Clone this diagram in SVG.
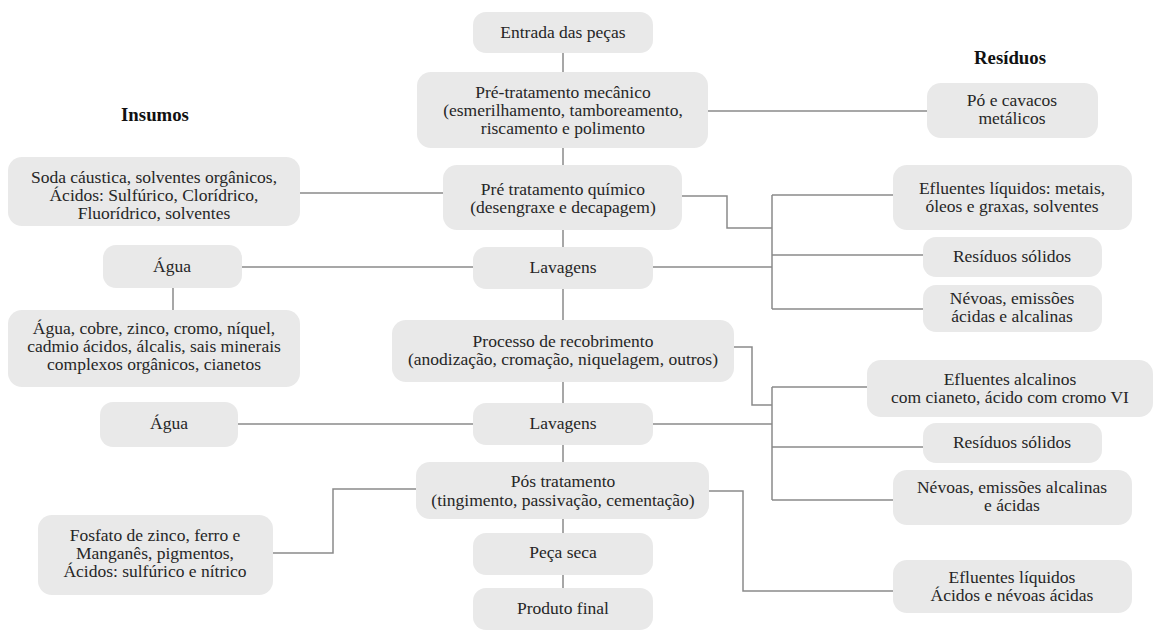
<svg xmlns="http://www.w3.org/2000/svg" width="1154" height="631" viewBox="0 0 1154 631">
<style>
.box{fill:#e9e9e9;stroke:none}
.t{font-family:'Liberation Serif','Times New Roman','DejaVu Serif',serif;font-size:17.5px;fill:#262626;text-anchor:middle}
.h{font-family:'Liberation Serif','Times New Roman','DejaVu Serif',serif;font-size:18.8px;font-weight:bold;fill:#111;text-anchor:middle}
.c{fill:none;stroke:#8a8a8a;stroke-width:1.5}
</style>
<rect width="1154" height="631" fill="#ffffff"/>
<g id="connectors">
<path class="c" d="M563 52V72M563 148V165M563 230V247M563 289V320M563 382V403M563 445V462M563 519V533M563 575V588"/>
<path class="c" d="M708 111H927"/>
<path class="c" d="M300 193H443"/>
<path class="c" d="M242 267H473"/>
<path class="c" d="M173 288V310"/>
<path class="c" d="M238 424H473"/>
<path class="c" d="M273 553H333V489H416"/>
<path class="c" d="M682 196H727V228H772"/>
<path class="c" d="M772 195V309M772 195H893M653 267H772M772 255H923M772 309H923"/>
<path class="c" d="M734 347H752V405H772"/>
<path class="c" d="M772 387V500M772 387H867M653 424H772M772 447H923M772 500H893"/>
<path class="c" d="M709 491H743V591H893"/>
</g>
<text class="h" x="155" y="121">Insumos</text>
<text class="h" x="1010" y="64">Resíduos</text>
<g id="n-entrada"><rect class="box" x="473" y="12" width="180" height="41" rx="13"/><text class="t" x="563" y="38">Entrada das peças</text></g>
<g id="n-mecanico"><rect class="box" x="417" y="72" width="291" height="76" rx="14"/><text class="t" x="563" y="98">Pré-tratamento mecânico</text><text class="t" x="563" y="116">(esmerilhamento, tamboreamento,</text><text class="t" x="563" y="134">riscamento e polimento</text></g>
<g id="n-quimico"><rect class="box" x="443" y="165" width="239" height="65" rx="14"/><text class="t" x="563" y="195">Pré tratamento químico</text><text class="t" x="563" y="213">(desengraxe e decapagem)</text></g>
<g id="n-lav1"><rect class="box" x="473" y="247" width="180" height="42" rx="13"/><text class="t" x="563" y="273">Lavagens</text></g>
<g id="n-recob"><rect class="box" x="392" y="320" width="342" height="62" rx="14"/><text class="t" x="563" y="347">Processo de recobrimento</text><text class="t" x="563" y="365">(anodização, cromação, niquelagem, outros)</text></g>
<g id="n-lav2"><rect class="box" x="473" y="403" width="180" height="42" rx="13"/><text class="t" x="563" y="429">Lavagens</text></g>
<g id="n-pos"><rect class="box" x="416" y="462" width="293" height="57" rx="14"/><text class="t" x="563" y="487">Pós tratamento</text><text class="t" x="563" y="506">(tingimento, passivação, cementação)</text></g>
<g id="n-seca"><rect class="box" x="473" y="533" width="180" height="42" rx="13"/><text class="t" x="563" y="558">Peça seca</text></g>
<g id="n-final"><rect class="box" x="473" y="588" width="180" height="42" rx="13"/><text class="t" x="563" y="614">Produto final</text></g>
<g id="n-soda"><rect class="box" x="8" y="157" width="292" height="69" rx="14"/><text class="t" x="154" y="183">Soda cáustica, solventes orgânicos,</text><text class="t" x="154" y="201">Ácidos: Sulfúrico, Clorídrico,</text><text class="t" x="154" y="219">Fluorídrico, solventes</text></g>
<g id="n-agua1"><rect class="box" x="103" y="245" width="139" height="43" rx="13"/><text class="t" x="172" y="272">Água</text></g>
<g id="n-aguacobre"><rect class="box" x="8" y="310" width="292" height="77" rx="14"/><text class="t" x="154" y="334">Água, cobre, zinco, cromo, níquel,</text><text class="t" x="154" y="352">cadmio ácidos, álcalis, sais minerais</text><text class="t" x="154" y="370">complexos orgânicos, cianetos</text></g>
<g id="n-agua2"><rect class="box" x="100" y="402" width="138" height="45" rx="13"/><text class="t" x="169" y="429">Água</text></g>
<g id="n-fosfato"><rect class="box" x="38" y="515" width="235" height="80" rx="14"/><text class="t" x="155" y="541">Fosfato de zinco, ferro e</text><text class="t" x="155" y="559">Manganês, pigmentos,</text><text class="t" x="155" y="577">Ácidos: sulfúrico e nítrico</text></g>
<g id="n-po"><rect class="box" x="927" y="83" width="171" height="55" rx="14"/><text class="t" x="1012" y="106">Pó e cavacos</text><text class="t" x="1012" y="124">metálicos</text></g>
<g id="n-efl1"><rect class="box" x="893" y="165" width="239" height="65" rx="14"/><text class="t" x="1012" y="194">Efluentes líquidos: metais,</text><text class="t" x="1012" y="212">óleos e graxas, solventes</text></g>
<g id="n-res1"><rect class="box" x="923" y="237" width="179" height="40" rx="13"/><text class="t" x="1012" y="262">Resíduos sólidos</text></g>
<g id="n-nev1"><rect class="box" x="923" y="285" width="179" height="47" rx="13"/><text class="t" x="1012" y="304">Névoas, emissões</text><text class="t" x="1012" y="322">ácidas e alcalinas</text></g>
<g id="n-efl2"><rect class="box" x="867" y="360" width="286" height="57" rx="14"/><text class="t" x="1010" y="385">Efluentes alcalinos</text><text class="t" x="1010" y="403">com cianeto, ácido com cromo VI</text></g>
<g id="n-res2"><rect class="box" x="923" y="423" width="179" height="40" rx="13"/><text class="t" x="1012" y="448">Resíduos sólidos</text></g>
<g id="n-nev2"><rect class="box" x="893" y="470" width="239" height="55" rx="14"/><text class="t" x="1012" y="493">Névoas, emissões alcalinas</text><text class="t" x="1012" y="511">e ácidas</text></g>
<g id="n-efl3"><rect class="box" x="893" y="560" width="239" height="53" rx="14"/><text class="t" x="1012" y="583">Efluentes líquidos</text><text class="t" x="1012" y="601">Ácidos e névoas ácidas</text></g>
</svg>
